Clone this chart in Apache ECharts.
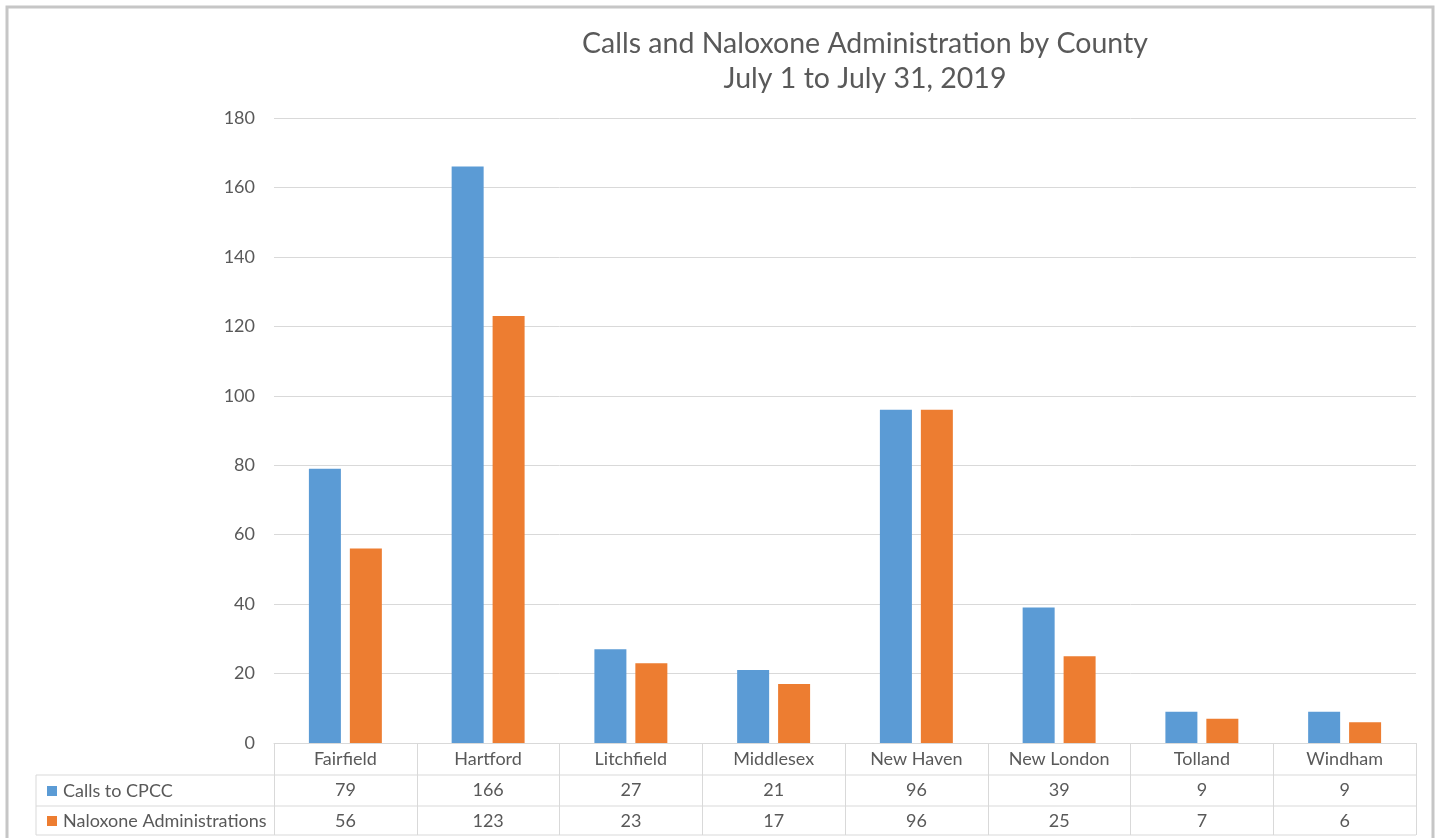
<!DOCTYPE html>
<html><head><meta charset="utf-8">
<script src="https://cdn.jsdelivr.net/npm/echarts@6/dist/echarts.min.js"></script>
<style>html,body{margin:0;padding:0;background:#fff}#c{width:1440px;height:838px}</style>
</head><body><div id="c"></div>
<script>
const counties = ['Fairfield','Hartford','Litchfield','Middlesex','New Haven','New London','Tolland','Windham'];
const callsToCPCC = [79,166,27,21,96,39,9,9];
const naloxoneAdmin = [56,123,23,17,96,25,7,6];
const seriesNames = ['Calls to CPCC','Naloxone Administrations'];
const titleLines = ['Calls and Naloxone Administration by County','July 1 to July 31, 2019'];

const FONT = 'Lato';
const TXT = '#595959';
const LINE = '#d9d9d9';
const FS = 18;
const G = {left:274, right:24, top:118, bottom:95};
const W = 1440, H = 838;
const gx1 = W - G.right, gy = H - G.bottom;
const rowH = [32, 31, 29];
const tableLeft = 36;

const chart = echarts.init(document.getElementById('c'));
const rowAxis = (vals, off) => ({
  type:'category', gridIndex:0, position:'bottom', offset:off, data:vals.map(String),
  axisLine:{show:false}, axisTick:{show:false},
  axisLabel:{color:TXT, fontFamily:FONT, fontSize:FS, margin:6, interval:0}
});
const y1 = gy + rowH[0], y2 = y1 + rowH[1], y3 = y2 + rowH[2];
const legendItem = (name, top) => ({
  orient:'horizontal', left:42, top:top, itemWidth:10, itemHeight:10, icon:'rect', itemGap:0,
  textStyle:{color:TXT, fontFamily:FONT, fontSize:FS, padding:[0,0,0,1]}, data:[name], selectedMode:false
});
chart.setOption({
  animation:false,
  textStyle:{fontFamily:FONT},
  title:{text:titleLines.join('\n'), left:860, top:21, textAlign:'center',
    textStyle:{color:TXT, fontFamily:FONT, fontSize:28.5, fontWeight:'normal', lineHeight:35}},
  legend:[legendItem(seriesNames[0], y1+2), legendItem(seriesNames[1], y2+1)],
  grid:{left:G.left, right:G.right, top:G.top, bottom:G.bottom, containLabel:false},
  xAxis:[
    {type:'category', data:counties, position:'bottom',
      axisLine:{lineStyle:{color:LINE, width:1}},
      axisTick:{show:true, length:rowH[0]+rowH[1]+rowH[2], interval:0, lineStyle:{color:LINE}},
      axisLabel:{color:TXT, fontFamily:FONT, fontSize:FS, margin:7, interval:0}},
    rowAxis(callsToCPCC, rowH[0]),
    rowAxis(naloxoneAdmin, rowH[0]+rowH[1])
  ],
  yAxis:{type:'value', min:0, max:180, interval:20,
    axisLine:{show:false}, axisTick:{show:false},
    axisLabel:{color:TXT, fontFamily:FONT, fontSize:FS, margin:19},
    splitLine:{lineStyle:{color:LINE}}},
  series:[
    {name:seriesNames[0], type:'bar', data:callsToCPCC, barWidth:32, barGap:'28%', itemStyle:{color:'#5b9bd5'}},
    {name:seriesNames[1], type:'bar', data:naloxoneAdmin, barWidth:32, barGap:'28%', itemStyle:{color:'#ed7d31'}}
  ],
  graphic:[
    {type:'rect', shape:{x:7, y:7, width:1426, height:H}, style:{fill:'none', stroke:'#c6c6c6', lineWidth:3}, silent:true},
    {type:'line', shape:{x1:tableLeft, y1:y1, x2:gx1, y2:y1}, style:{stroke:LINE, lineWidth:1}, silent:true},
    {type:'line', shape:{x1:tableLeft, y1:y2, x2:gx1, y2:y2}, style:{stroke:LINE, lineWidth:1}, silent:true},
    {type:'line', shape:{x1:tableLeft, y1:y3, x2:gx1, y2:y3}, style:{stroke:LINE, lineWidth:1}, silent:true},
    {type:'line', shape:{x1:tableLeft, y1:y1, x2:tableLeft, y2:y3}, style:{stroke:LINE, lineWidth:1}, silent:true}
  ]
});
</script></body></html>
